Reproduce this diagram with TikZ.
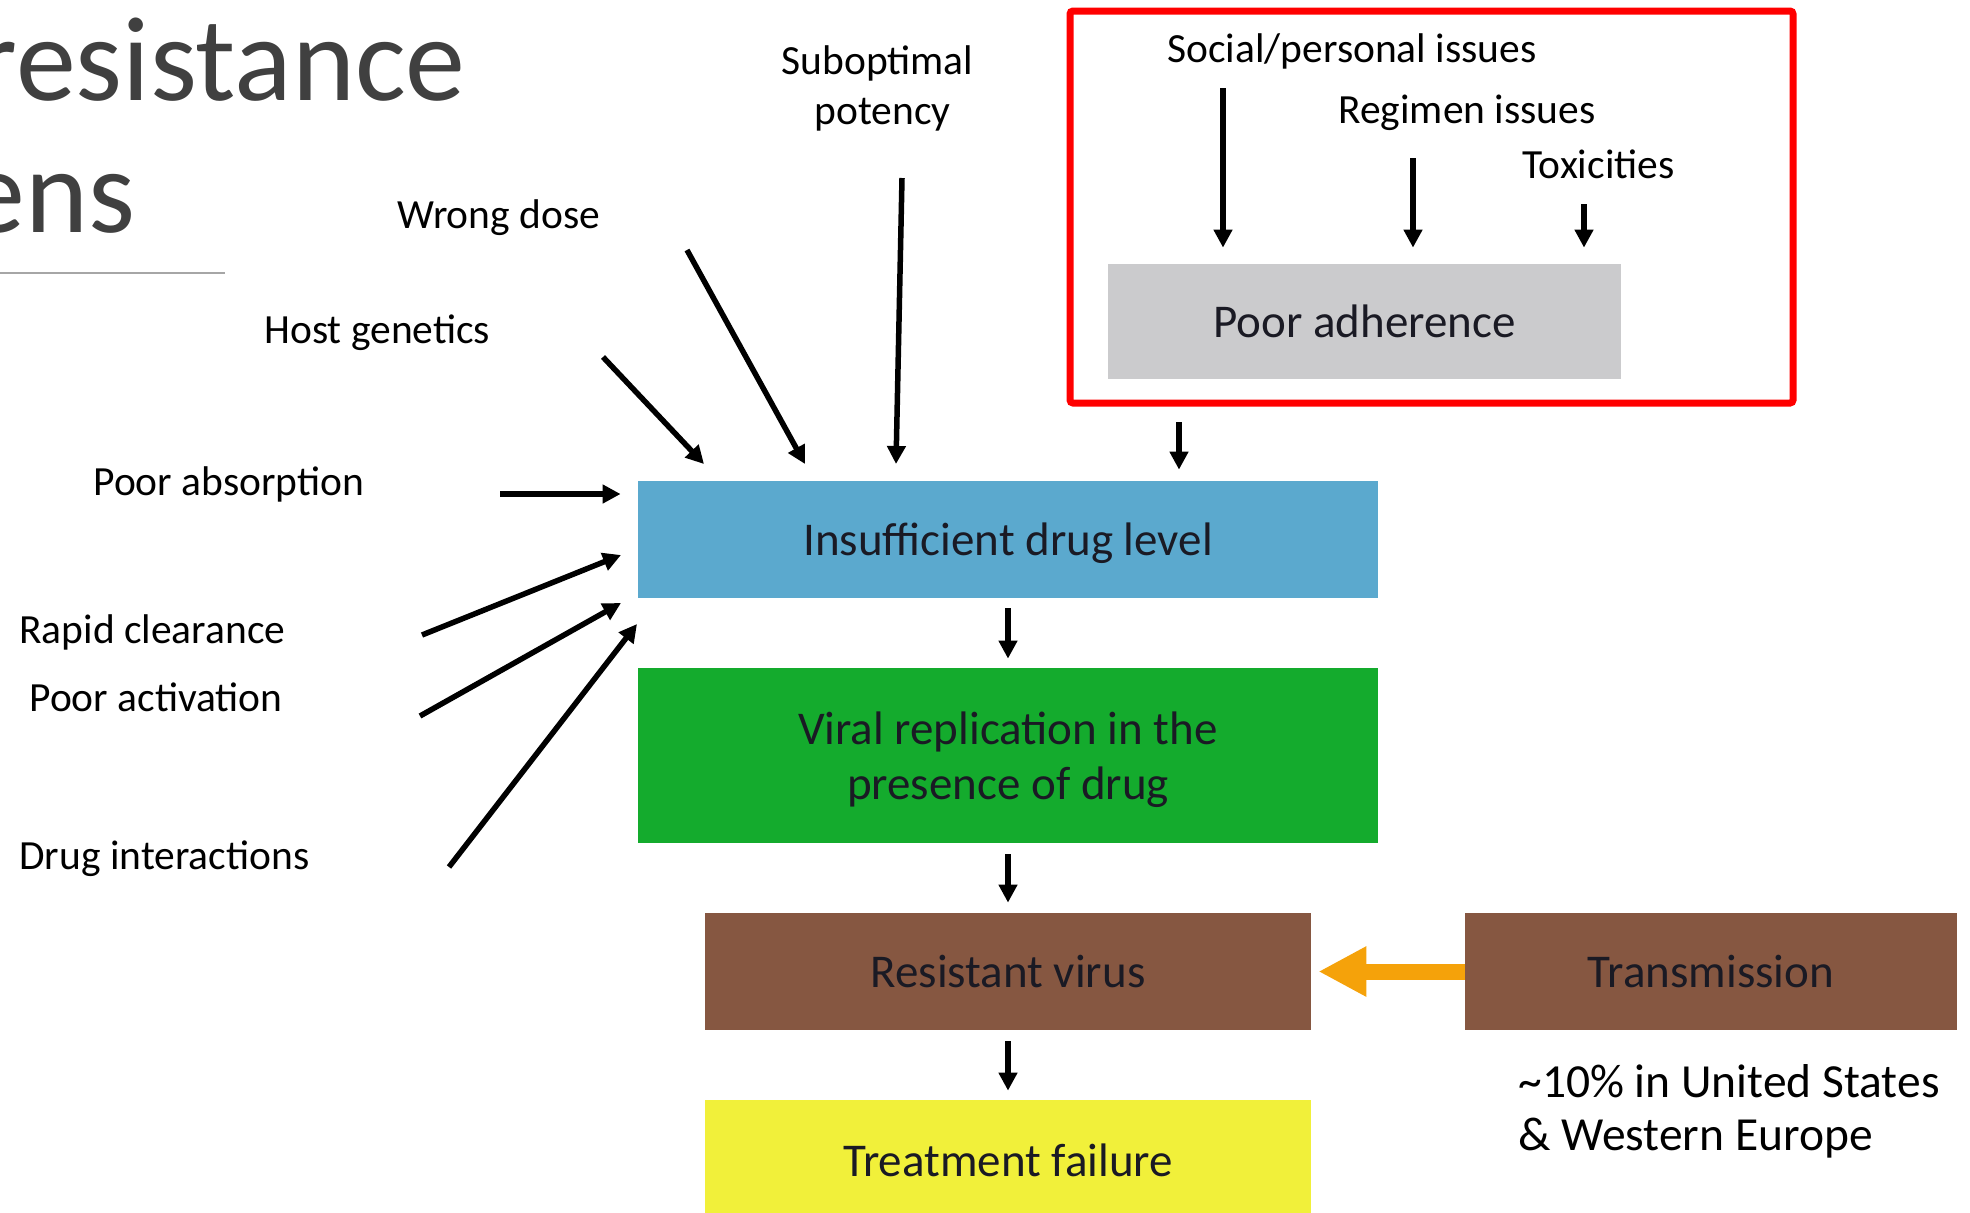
\documentclass[tikz,border=0pt]{standalone}
\usepackage{fontspec}
\setmainfont{Carlito}
\usetikzlibrary{arrows.meta}
\definecolor{cblue}{HTML}{5BA9CE}
\definecolor{cgreen}{HTML}{14AB2D}
\definecolor{cbrown}{HTML}{865741}
\definecolor{cyellow}{HTML}{F1F03A}
\definecolor{cgrey}{HTML}{CBCBCD}
\definecolor{cred}{HTML}{FF0000}
\definecolor{corange}{HTML}{F5A20A}
\definecolor{ctitle}{HTML}{404040}
\definecolor{cboxtext}{HTML}{1A1A24}
\definecolor{crule}{HTML}{A6A6A6}
\begin{document}
\begin{tikzpicture}[x=0.5pt,y=-0.5pt,
  box/.style={rectangle, inner sep=0pt, text=cboxtext, font=\fontsize{23.5}{27.7}\selectfont},
  oneline/.style={text height=19pt, text depth=3pt},
  lbl/.style={inner sep=0pt, text=black, font=\fontsize{20.75}{24}\selectfont},
  note/.style={inner sep=0pt, text=black, font=\fontsize{23.75}{27}\selectfont},
  ttl/.style={inner sep=0pt, text=ctitle, font=\fontsize{60}{60}\selectfont},
  arr/.style={line width=2.75pt, -{Triangle[width=9pt,length=9pt]}},
  oarr/.style={draw=corange, line width=8pt, -{Triangle[width=23.5pt,length=24pt]}}
]
\useasboundingbox (0,0) rectangle (1970,1212);

% title fragment
\node[ttl, anchor=base east] (t1) at (466,100) {resistance};
\node[ttl, anchor=base east] (t2) at (136,232) {ens};
\draw[crule, line width=1.1pt] (0,273) -- (225,273);

% red frame and adherence box
\node[draw=cred, line width=3.5pt, rounded corners=1.5pt, minimum width=361.5pt, minimum height=196pt, inner sep=0pt] (frame) at (1431.5,207) {};
\node[box, oneline, fill=cgrey, minimum width=256.5pt, minimum height=57.5pt] (adh) at (1364.5,321.5) {Poor adherence};

% main chain
\node[box, oneline, fill=cblue, minimum width=370pt, minimum height=58.5pt] (idl) at (1008,539.5) {Insufficient drug level};
\node[box, fill=cgreen, minimum width=370pt, minimum height=87.5pt, align=center] (vr) at (1008,755.5) {Viral replication in the\\\raisebox{0pt}[\height][0pt]{presence of drug}};
\node[box, oneline, fill=cbrown, minimum width=303pt, minimum height=58.5pt] (res) at (1008,971.5) {Resistant virus};
\node[box, oneline, fill=cyellow, minimum width=303pt, minimum height=60pt] (tf) at (1008,1160) {Treatment failure};
\node[box, oneline, fill=cbrown, minimum width=246pt, minimum height=58.5pt] (tr) at (1711,971.5) {Transmission};

% labels
\node[lbl, anchor=base] (sub1) at (877.5,74) {Suboptimal};
\node[lbl, anchor=base] (sub2) at (882.5,124) {potency};
\node[lbl, anchor=base west] (wd) at (397,228) {Wrong dose};
\node[lbl, anchor=base west] (hg) at (264,343) {Host genetics};
\node[lbl, anchor=base west] (pab) at (93,495) {Poor absorption};
\node[lbl, anchor=base west] (rc) at (19,643) {Rapid clearance};
\node[lbl, anchor=base west] (pac) at (29,711) {Poor activation};
\node[lbl, anchor=base west] (di) at (19,869) {Drug interactions};
\node[lbl, anchor=base west] (soc) at (1167,62) {Social/personal issues};
\node[lbl, anchor=base west] (reg) at (1338,123) {Regimen issues};
\node[lbl, anchor=base west] (tox) at (1522,178) {Toxicities};
\node[note, anchor=base west] (us1) at (1518,1097) {\textasciitilde10\% in United States};
\node[note, anchor=base west] (us2) at (1518,1150) {\& Western Europe};

% arrow end points
\coordinate (sS) at (902,178);  \coordinate (sE) at (896,464);
\coordinate (wS) at (687,250);  \coordinate (wE) at (805,464);
\coordinate (hS) at (603,357);  \coordinate (hE) at (704,464);
\coordinate (aS) at (500,494);
\coordinate (rS) at (422,635);  \coordinate (rE) at (621,555);
\coordinate (cS) at (420,716);  \coordinate (cE) at (621,603);
\coordinate (dS) at (449,867);  \coordinate (dE) at (637,624);
\coordinate (x1) at (1223,88);
\coordinate (x2) at (1413,158);
\coordinate (x3) at (1584,204);
\coordinate (fb) at (1179,422);

% connectors into the drug level box
\draw[arr] (sS) -- (sE);
\draw[arr] (wS) -- (wE);
\draw[arr] (hS) -- (hE);
\draw[arr, shorten >=8.5pt] (aS) -- (aS -| idl.west);
\draw[arr] (rS) -- (rE);
\draw[arr] (cS) -- (cE);
\draw[arr] (dS) -- (dE);

% adherence arrows
\draw[arr, shorten >=8pt] (x1) -- (x1 |- adh.north);
\draw[arr, shorten >=8pt] (x2) -- (x2 |- adh.north);
\draw[arr, shorten >=8pt] (x3) -- (x3 |- adh.north);
\draw[arr, shorten >=5.5pt] (fb) -- (fb |- idl.north);

% chain arrows
\draw[arr, shorten <=5pt, shorten >=4.5pt] (idl) -- (vr);
\draw[arr, shorten <=5.5pt, shorten >=5pt] (vr) -- (res);
\draw[arr, shorten <=5.5pt, shorten >=4.5pt] (res) -- (tf);

% transmission arrow
\draw[oarr, shorten >=3.5pt] (tr) -- (res);
\end{tikzpicture}
\end{document}
